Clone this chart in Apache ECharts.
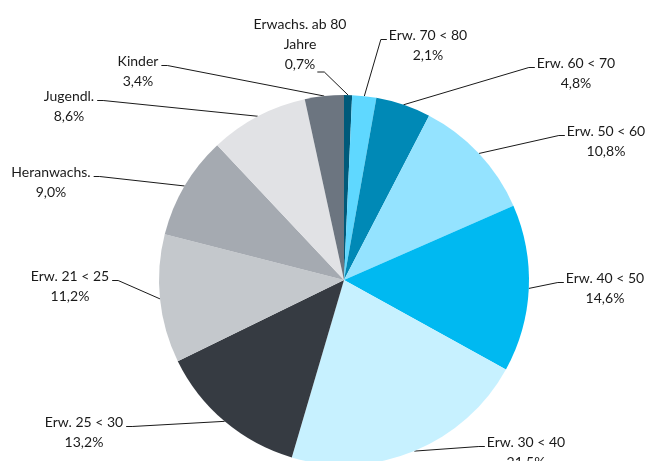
<!DOCTYPE html>
<html>
<head>
<meta charset="utf-8">
<script src="https://cdn.jsdelivr.net/npm/echarts@6/dist/echarts.min.js"></script>
<style>
  html, body { margin: 0; padding: 0; background: #fff; }
  #chart { width: 645px; height: 461px; }
</style>
</head>
<body>
<div id="chart"></div>
<script>
// Age groups, clockwise from 12 o'clock
const categories = [
  'Erwachs. ab 80\nJahre', 'Erw. 70 < 80', 'Erw. 60 < 70', 'Erw. 50 < 60',
  'Erw. 40 < 50', 'Erw. 30 < 40', 'Erw. 25 < 30', 'Erw. 21 < 25',
  'Heranwachs.', 'Jugendl.', 'Kinder'
];
// Share in percent
const shares = [0.7, 2.1, 4.8, 10.8, 14.6, 21.5, 13.2, 11.2, 9.0, 8.6, 3.4];

const colors = [
  '#005a7a', '#5fd8ff', '#0089b6', '#94e3ff', '#00b9f1', '#c7f1ff',
  '#363b42', '#c4c8cc', '#a5aab1', '#e1e2e5', '#6c7580'
];

// Label block centres (px) and the side the leader line attaches to
const labelSpots = [
  [300, 44, 'under'], [428, 45, 'left'], [576, 73, 'left'], [606, 141, 'left'],
  [605, 288, 'left'], [526, 452, 'left'], [84, 432, 'right'], [70, 286, 'right'],
  [51, 182, 'right'], [69, 106, 'right'], [138, 71, 'right']
];

const FONT = 'Lato';
const FONT_SIZE = 14;
const LINE_H = 20;

const measureCtx = document.createElement('canvas').getContext('2d');
function textWidth(s) {
  measureCtx.font = FONT_SIZE + 'px ' + FONT;
  return measureCtx.measureText(s).width;
}
function pct(v) { return v.toFixed(1).replace('.', ',') + '%'; }

const chart = echarts.init(document.getElementById('chart'), null, { renderer: 'canvas' });

chart.setOption({
  animation: false,
  backgroundColor: '#ffffff',
  series: [{
    type: 'pie',
    center: [344, 280],
    radius: 185,
    startAngle: 90,
    clockwise: true,
    avoidLabelOverlap: false,
    data: categories.map((name, i) => ({
      name: name,
      value: shares[i],
      itemStyle: { color: colors[i] }
    })),
    label: {
      show: true,
      position: 'outside',
      formatter: p => p.name + '\n' + pct(p.value),
      fontFamily: FONT,
      fontSize: FONT_SIZE,
      lineHeight: LINE_H,
      color: '#1a1a1a',
      align: 'center'
    },
    labelLine: {
      show: true,
      length: 10,
      length2: 10,
      smooth: false,
      lineStyle: { color: '#1a1a1a', width: 1 }
    },
    emphasis: { disabled: true },
    labelLayout: function (p) {
      const i = p.dataIndex;
      const [x, y, side] = labelSpots[i];
      const lines = (categories[i] + '\n' + pct(shares[i])).split('\n');
      const top = y - lines.length * LINE_H / 2;
      const edge = p.labelLinePoints ? p.labelLinePoints[0] : [x, y];
      let end, knee;
      if (side === 'under') {
        const last = lines[lines.length - 1];
        const ly = top + (lines.length - 0.5) * LINE_H + 8;
        end = [x + textWidth(last) / 2 + 2, ly];
        knee = [end[0] + 7, ly];
      } else {
        const w1 = textWidth(lines[0]);
        const ly = top + LINE_H / 2 + 4.5;
        if (side === 'left') {
          end = [x - w1 / 2 - 2, ly];
          knee = [end[0] - 6, ly];
        } else {
          end = [x + w1 / 2 + 3, ly];
          knee = [end[0] + 6, ly];
        }
      }
      return {
        x: x,
        y: y,
        align: 'center',
        verticalAlign: 'middle',
        labelLinePoints: [edge, knee, end]
      };
    }
  }]
});
</script>
</body>
</html>
